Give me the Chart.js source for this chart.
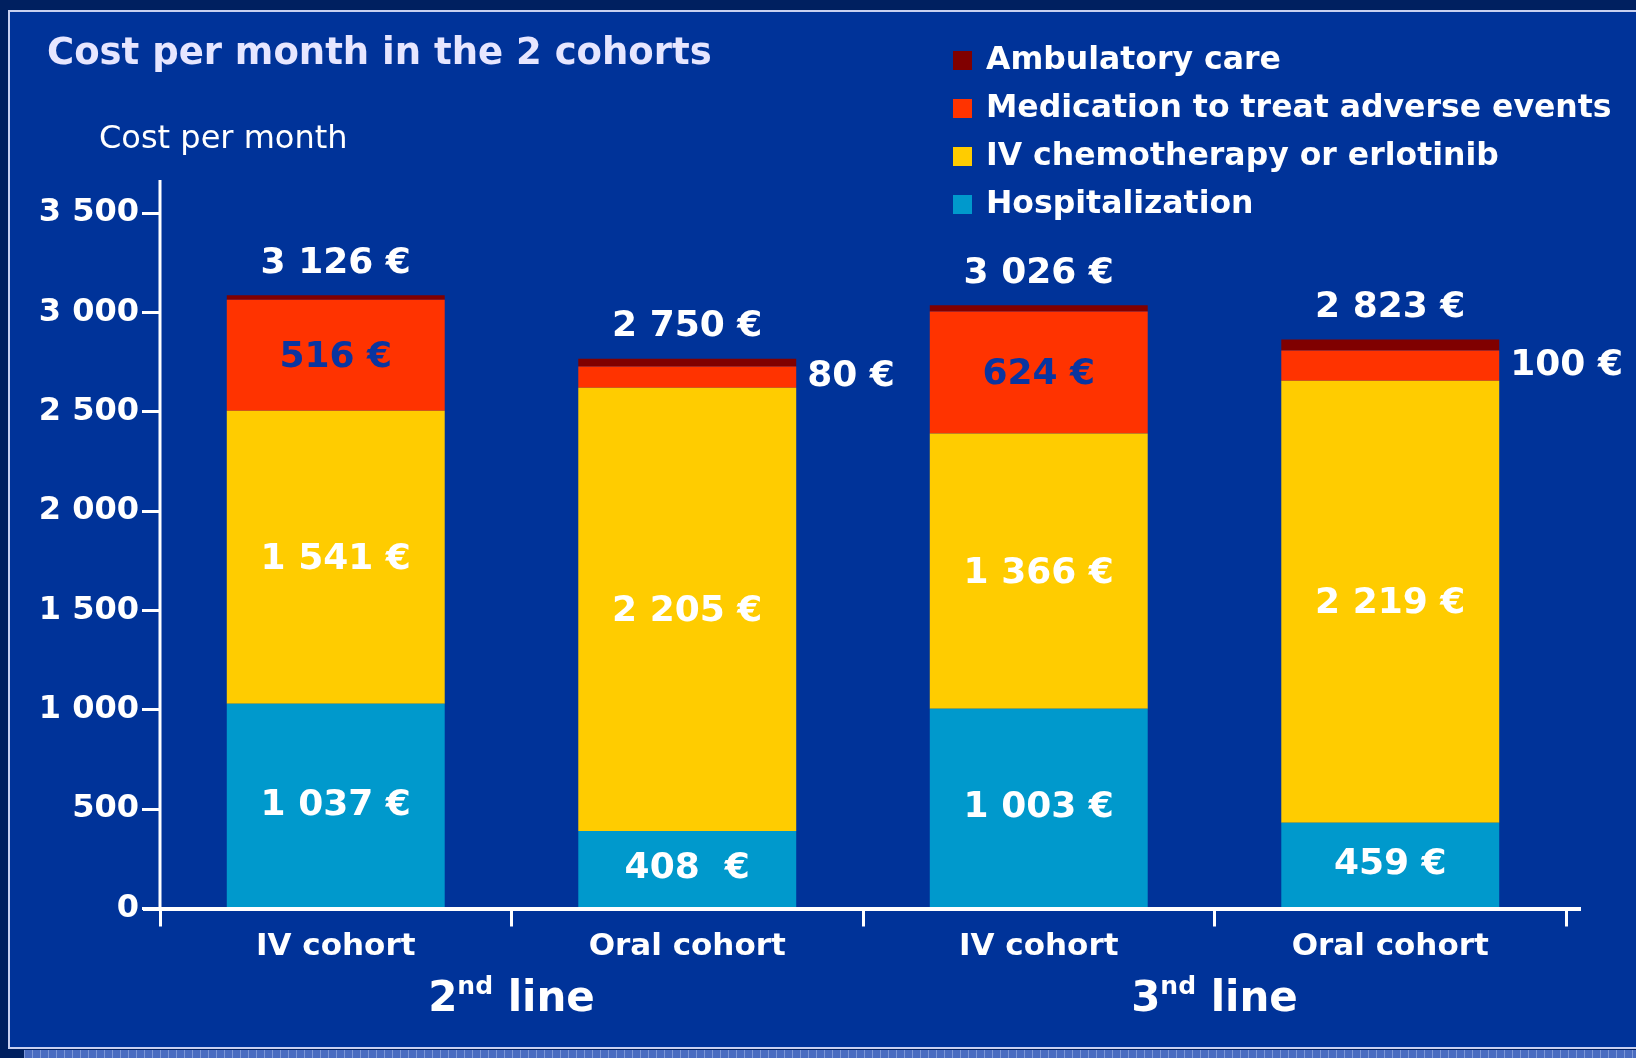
<!DOCTYPE html>
<html>
<head>
<meta charset="utf-8">
<script src="https://cdn.jsdelivr.net/npm/chart.js@4/dist/chart.umd.min.js"></script>
<style>
  html, body { margin: 0; padding: 0; background: #002060; }
  #wrap { width: 1636px; height: 1058px; }
  canvas { display: block; }
</style>
</head>
<body>
<div id="wrap"><canvas id="c" width="1636" height="1058"></canvas></div>
<script>
// ---- data ----
const categories = ['IV cohort', 'Oral cohort', 'IV cohort', 'Oral cohort'];
const groupNumbers = ['2', '3'];
const groupSuffix = ['nd', 'nd'];
const groupWord = ['line', 'line'];
const seriesNames = ['Hospitalization', 'IV chemotherapy or erlotinib', 'Medication to treat adverse events', 'Ambulatory care'];
const hospitalization = [1030, 390, 1005, 431];
const chemotherapy = [1475, 2231, 1385, 2225];
const medication = [559, 106, 614, 152];
const ambulatory = [22, 39, 32, 55];
const hospLabels = ['1 037 €', '408  €', '1 003 €', '459 €'];
const chemoLabels = ['1 541 €', '2 205 €', '1 366 €', '2 219 €'];
const medLabels = ['516 €', '80 €', '624 €', '100 €'];
const medLabelOutside = [false, true, false, true];
const totalLabels = ['3 126 €', '2 750 €', '3 026 €', '2 823 €'];
const yTickLabels = ['0', '500', '1 000', '1 500', '2 000', '2 500', '3 000', '3 500'];
const titleText = 'Cost per month in the 2 cohorts';
const yAxisTitle = 'Cost per month';

const colors = ['#0099cc', '#ffcc00', '#ff3300', '#800000'];
const FONT = "'DejaVu Sans', Verdana, sans-serif";

const decor = {
  id: 'decor',
  beforeDraw(chart) {
    const ctx = chart.ctx;
    ctx.save();
    ctx.fillStyle = '#002060';
    ctx.fillRect(0, 0, 1636, 1058);
    ctx.fillStyle = '#003399';
    ctx.fillRect(9, 11, 1640, 1037);
    ctx.strokeStyle = '#c8d0f0';
    ctx.lineWidth = 2;
    ctx.strokeRect(9, 11, 1640, 1037);
    // bottom textured band
    ctx.fillStyle = '#4a6cc0';
    ctx.fillRect(24, 1050, 1612, 8);
    ctx.strokeStyle = 'rgba(160,180,230,0.6)';
    ctx.lineWidth = 1;
    for (let x = 24; x < 1636; x += 8) {
      ctx.beginPath(); ctx.moveTo(x + 0.5, 1050); ctx.lineTo(x + 0.5, 1058); ctx.stroke();
    }
    ctx.restore();
  },
  afterDraw(chart) {
    const ctx = chart.ctx;
    const xs = chart.scales.x, ys = chart.scales.y;
    const y0 = ys.getPixelForValue(0);
    ctx.save();
    // axis lines
    ctx.strokeStyle = '#ffffff';
    ctx.lineWidth = 3;
    ctx.beginPath(); ctx.moveTo(xs.left, 180); ctx.lineTo(xs.left, y0 + 2); ctx.stroke();
    ctx.lineWidth = 4;
    ctx.beginPath(); ctx.moveTo(xs.left - 17, y0 + 0.5); ctx.lineTo(xs.right + 15, y0 + 0.5); ctx.stroke();

    // title
    ctx.fillStyle = '#e6e6ff';
    ctx.font = 'bold 37px ' + FONT;
    ctx.textAlign = 'left';
    ctx.textBaseline = 'middle';
    ctx.fillText(titleText, 47, 54);

    // y axis title
    ctx.fillStyle = '#ffffff';
    ctx.font = '32px ' + FONT;
    ctx.fillText(yAxisTitle, 99, 140);

    // legend (reverse stack order)
    ctx.font = 'bold 31.5px ' + FONT;
    const order = [3, 2, 1, 0];
    order.forEach((di, i) => {
      const cy = 61 + i * 48;
      const ds = chart.data.datasets[di];
      ctx.fillStyle = ds.backgroundColor;
      ctx.fillRect(953, cy - 10, 19, 19);
      ctx.fillStyle = '#ffffff';
      ctx.fillText(ds.label, 986, cy);
    });

    // segment labels
    ctx.font = 'bold 36px ' + FONT;
    const metas = [0, 1, 2, 3].map(i => chart.getDatasetMeta(i));
    for (let k = 0; k < categories.length; k++) {
      const hb = metas[0].data[k], cb = metas[1].data[k], mb = metas[2].data[k], ab = metas[3].data[k];
      ctx.textAlign = 'center';
      ctx.fillStyle = '#ffffff';
      ctx.fillText(hospLabels[k], hb.x, (hb.y + hb.base) / 2);
      ctx.fillText(chemoLabels[k], cb.x, (cb.y + cb.base) / 2 + 2);
      const my = (mb.y + mb.base) / 2;
      if (medLabelOutside[k]) {
        ctx.textAlign = 'left';
        ctx.fillStyle = '#ffffff';
        ctx.fillText(medLabels[k], mb.x + mb.width / 2 + 11, my);
      } else {
        ctx.fillStyle = '#0a35a0';
        ctx.fillText(medLabels[k], mb.x, my + 2);
      }
      ctx.textAlign = 'center';
      ctx.fillStyle = '#ffffff';
      ctx.fillText(totalLabels[k], ab.x, ab.y - 32);
    }

    // group labels
    for (let g = 0; g < groupNumbers.length; g++) {
      const cx = (xs.getPixelForValue(g * 2) + xs.getPixelForValue(g * 2 + 1)) / 2;
      const big = 'bold 42px ' + FONT, small = 'bold 25px ' + FONT;
      ctx.font = big; const w1 = ctx.measureText(groupNumbers[g]).width;
      const w3 = ctx.measureText(' ' + groupWord[g]).width;
      ctx.font = small; const w2 = ctx.measureText(groupSuffix[g]).width;
      let x = cx - (w1 + w2 + w3) / 2;
      const base = 1011;
      ctx.textAlign = 'left';
      ctx.textBaseline = 'alphabetic';
      ctx.fillStyle = '#ffffff';
      ctx.font = big; ctx.fillText(groupNumbers[g], x, base); x += w1;
      ctx.font = small; ctx.fillText(groupSuffix[g], x, base - 17); x += w2;
      ctx.font = big; ctx.fillText(' ' + groupWord[g], x, base);
    }
    ctx.restore();
  }
};

new Chart(document.getElementById('c'), {
  type: 'bar',
  data: {
    labels: categories,
    datasets: [
      { label: seriesNames[0], data: hospitalization, backgroundColor: colors[0] },
      { label: seriesNames[1], data: chemotherapy, backgroundColor: colors[1] },
      { label: seriesNames[2], data: medication, backgroundColor: colors[2] },
      { label: seriesNames[3], data: ambulatory, backgroundColor: colors[3] }
    ]
  },
  options: {
    responsive: false,
    animation: false,
    devicePixelRatio: 1,
    layout: { padding: { left: 0, top: 213, right: 70, bottom: 0 } },
    datasets: { bar: { categoryPercentage: 1, barPercentage: 0.62, borderWidth: 0, borderSkipped: false } },
    plugins: { legend: { display: false }, title: { display: false }, tooltip: { enabled: false } },
    scales: {
      x: {
        stacked: true,
        offset: true,
        afterFit(s) { s.height = 1058 - 908.5; },
        border: { display: false },
        grid: { offset: true, drawOnChartArea: false, drawTicks: true, tickLength: 18, color: '#ffffff', lineWidth: 3 },
        ticks: { color: '#ffffff', font: { family: FONT, size: 31, weight: 'bold' }, padding: 2, maxRotation: 0 }
      },
      y: {
        stacked: true,
        min: 0, max: 3500,
        afterFit(s) { s.width = 160; },
        border: { display: false },
        grid: { drawOnChartArea: false, drawTicks: true, tickLength: 18, color: '#ffffff', lineWidth: 3 },
        ticks: { stepSize: 500, color: '#ffffff', padding: 3, font: { family: FONT, size: 32, weight: 'bold' },
                 callback: (v) => yTickLabels[Math.round(v / 500)] }
      }
    }
  },
  plugins: [decor]
});
</script>
</body>
</html>
